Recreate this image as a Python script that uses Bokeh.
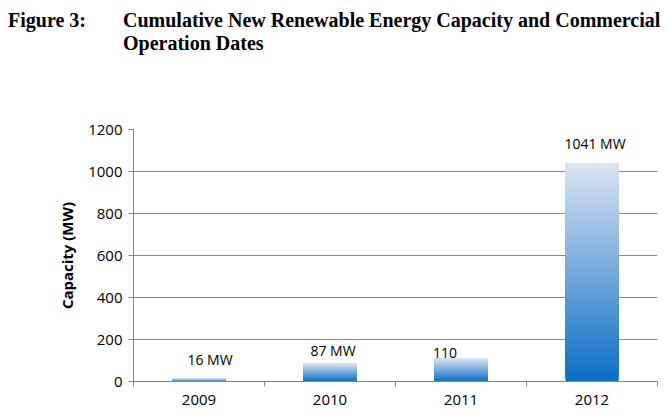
import numpy as np
from bokeh.plotting import figure
from bokeh.layouts import column
from bokeh.models import ColumnDataSource, FixedTicker, Range1d, Div
from bokeh.core.properties import value
from bokeh.embed import file_html
from bokeh.resources import INLINE

# ---- data ----
years = ["2009", "2010", "2011", "2012"]
capacity = [16, 87, 110, 1041]
bar_labels = ["16 MW", "87 MW", "110", "1041 MW"]
y_ticks = [0, 200, 400, 600, 800, 1000, 1200]
y_max = 1200
fig_label = "Figure 3:"
title_line1 = "Cumulative New Renewable Energy Capacity and Commercial"
title_line2 = "Operation Dates"

# label style offsets (screen px)
label_dx = [11, 3, -16, 3]
label_dy = [-9, -3, 0, -10]

W, H = 667, 420
HEAD = 119                      # height of the title block
FL, FR, FT, FB = 133, 10, 10, 39  # frame borders of the chart
PH = H - HEAD

head = Div(text=f"""
<div style="position:relative;width:{W}px;height:{HEAD}px;font-family:'Liberation Serif',serif;
font-weight:bold;font-size:20px;line-height:20px;color:#000;white-space:nowrap;">
<span style="position:absolute;left:8px;top:10px;">{fig_label}</span>
<span style="position:absolute;left:123px;top:10px;">{title_line1}</span>
<span style="position:absolute;left:123px;top:33px;">{title_line2}</span>
</div>""", width=W, height=HEAD, margin=0)

p = figure(width=W, height=PH, output_backend="svg", toolbar_location=None,
           x_range=Range1d(0, len(years)), y_range=Range1d(0, y_max),
           min_border_left=FL, min_border_right=FR, min_border_top=FT,
           min_border_bottom=FB, margin=0)
p.outline_line_color = None
p.background_fill_color = "white"
p.border_fill_color = "white"

# gradient bars: stacked slices (each from its level to the bar top,
# painted bottom-up so each visible band shows its own colour)
px_per_x = (W - FL - FR) / len(years)
bar_w = 53 / px_per_x
N = 100
top_rgb = np.array([221, 229, 243])
bot_rgb = np.array([10, 110, 196])
xs, bots, tops, cols = [], [], [], []
for i, v in enumerate(capacity):
    for k in range(N):
        f = (k + 0.5) / N
        c = bot_rgb + (top_rgb - bot_rgb) * f
        xs.append(i + 0.5)
        bots.append(v * k / N)
        tops.append(v)
        cols.append("#%02x%02x%02x" % tuple(int(round(t)) for t in c))
src = ColumnDataSource(dict(x=xs, bottom=bots, top=tops, color=cols))
p.vbar(x="x", bottom="bottom", top="top", width=bar_w, source=src,
       fill_color="color", line_color=None)

# value labels
lsrc = ColumnDataSource(dict(x=[i + 0.5 for i in range(len(years))], y=capacity,
                             text=bar_labels, dx=label_dx, dy=label_dy))
p.text(x="x", y="y", text="text", source=lsrc, x_offset="dx", y_offset="dy",
       text_align="center", text_baseline="bottom",
       text_font=value("Open Sans"), text_font_size="14px", text_color="#000000")

# axes
axis_color = "#868686"
p.xaxis.ticker = FixedTicker(ticks=[i + 0.5 for i in range(len(years))],
                             minor_ticks=list(range(len(years) + 1)))
p.xaxis.major_label_overrides = {i + 0.5: y for i, y in enumerate(years)}
p.xaxis.major_tick_out = 0
p.xaxis.major_tick_in = 0
p.xaxis.minor_tick_out = 5
p.xaxis.minor_tick_in = 0
p.xaxis.minor_tick_line_color = axis_color
p.xaxis.axis_line_color = axis_color
p.xaxis.major_label_standoff = 8
p.xaxis.major_label_text_font = "Open Sans"
p.xaxis.major_label_text_font_size = "15px"
p.xaxis.major_label_text_color = "#000000"

p.yaxis.ticker = FixedTicker(ticks=y_ticks)
p.yaxis.minor_tick_line_color = None
p.yaxis.major_tick_out = 5
p.yaxis.major_tick_in = 0
p.yaxis.major_tick_line_color = axis_color
p.yaxis.axis_line_color = axis_color
p.yaxis.major_label_standoff = 6
p.yaxis.major_label_text_font = "Open Sans"
p.yaxis.major_label_text_font_size = "15px"
p.yaxis.major_label_text_color = "#000000"
p.yaxis.axis_label = "Capacity (MW)"
p.yaxis.axis_label_text_font = "Open Sans"
p.yaxis.axis_label_text_font_style = "bold"
p.yaxis.axis_label_text_font_size = "15px"
p.yaxis.axis_label_text_color = "#000000"
p.yaxis.axis_label_standoff = 8

p.xgrid.grid_line_color = None
p.ygrid.grid_line_color = "#8a8a8a"
p.ygrid.grid_line_width = 1

layout = column(head, p, spacing=0, margin=0)
open("out.html", "w").write(file_html(layout, INLINE))
